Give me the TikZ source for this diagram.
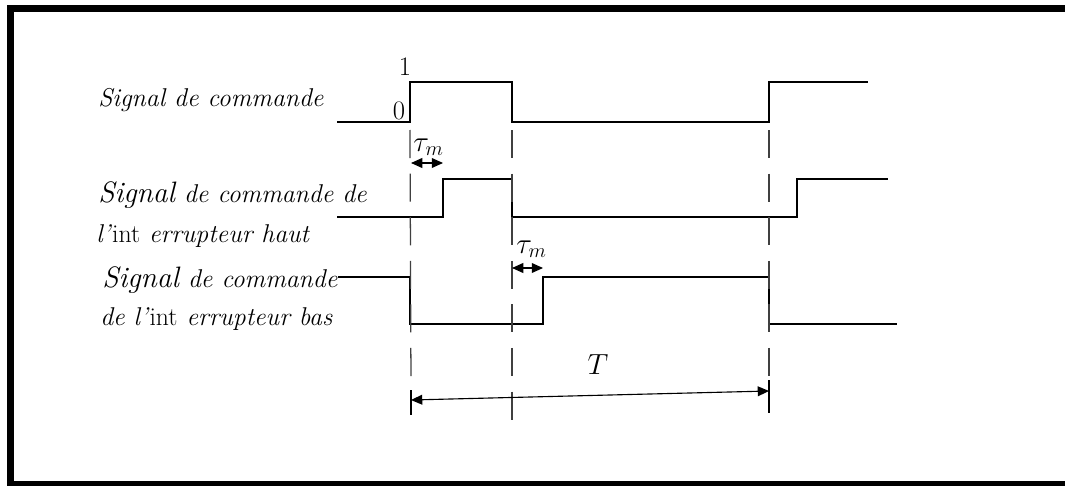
\documentclass[tikz,border=0pt]{standalone}
\usetikzlibrary{arrows.meta,positioning}
\newcommand{\sigbig}{{\fontsize{21}{25}\selectfont Signal}}
\begin{document}
\begin{tikzpicture}[
  x=0.025cm, y=-0.025cm,
  wave/.style={line width=1pt, black},
  guide/.style={line width=0.9pt, black!75, dash pattern=on 20pt off 11pt},
  dim/.style={line width=0.8pt, {Triangle[length=8pt,width=7pt]}-{Triangle[length=8pt,width=7pt]}},
  txt/.style={anchor=base west, inner sep=0pt, font=\fontsize{18.3}{22}\selectfont\itshape},
  lvl/.style={anchor=base, inner sep=0pt, font=\fontsize{19}{22}\selectfont},
  sym/.style={anchor=base west, inner sep=0pt, font=\fontsize{20}{24}\selectfont},
]
\useasboundingbox (0,0) rectangle (1065,486);

% ── Frame ──
\fill (7,5) rectangle (1065,12);
\fill (7,5) rectangle (14,486);
\fill (7,481) rectangle (1065,486);

% ── Labels ──
\node[txt] (cmd) at (98,106) {Signal de commande};
\node[txt] (hautA) at (98,202) {\sigbig\ de commande de};
\node[txt] (hautB) at (96,242) {l'\textup{int} errupteur haut};
\node[txt] (basA) at (102,287) {\sigbig\ de commande};
\node[txt] (basB) at (100,325) {de l'\textup{int} errupteur bas};

% ── Levels ──
\node[lvl] (one) at (405,76) {1};
\node[lvl] (zero) at (399,119) {0};

% ── Waveforms ──
\draw[wave] (337,122) -- (410,122) -- (410,82) -- (512,82) -- (512,122)
  -- (769,122) -- (769,82) -- (868,82);
\draw[wave] (337,217) -- (443,217) -- (443,179) -- (512,179) -- (512,217)
  -- (797,217) -- (797,179) -- (888,179);
\draw[wave] (338,277) -- (410,277) -- (410,324) -- (543,324) -- (543,277)
  -- (769,277) -- (769,324) -- (897,324);

% ── Guides ──
\coordinate (gA) at (410,130);
\coordinate (gB) at (512,130);
\coordinate (gC) at (769,130);
\coordinate (kA) at (411,390);
\coordinate (kB) at (512,428);
\coordinate (kC) at (769,380);
\draw[guide] (gA) -- (kA);
\draw[guide] (gB) -- (kB);
\draw[guide] (gC) -- (kC);
\draw[wave] (kA) -- (411,415);
\draw[wave] (kC) -- (769,413);

% ── Dead times ──
\coordinate (dA) at (411,163);
\coordinate (dB) at (443,163);
\coordinate (dC) at (512,268);
\coordinate (dD) at (543,268);
\draw[dim] (dA) -- (dB);
\draw[dim] (dC) -- (dD);
\node[sym] (tauA) at (413,151) {$\tau_m$};
\node[sym] (tauB) at (516,253) {$\tau_m$};

% ── Period ──
\coordinate (pA) at (411,400);
\coordinate (pB) at (769,391);
\draw[dim] (pA) -- (pB);
\node[sym, anchor=base, font=\fontsize{22}{26}\selectfont] (per) at (598,374) {$T$};

\end{tikzpicture}
\end{document}
